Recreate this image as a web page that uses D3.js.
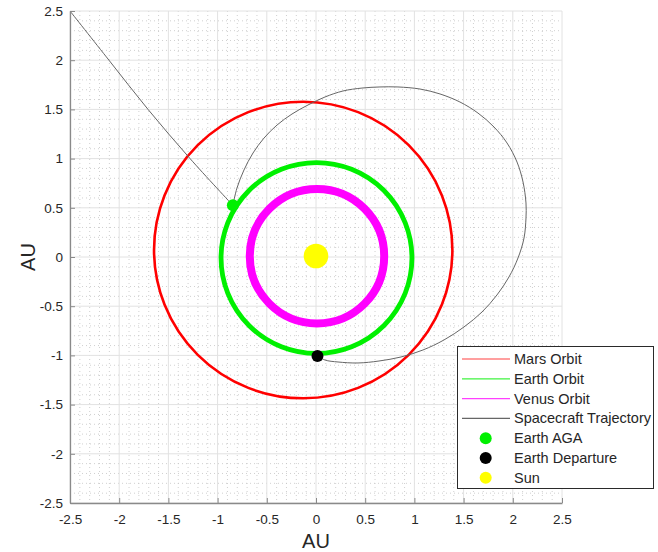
<!DOCTYPE html>
<html>
<head>
<meta charset="utf-8">
<script src="https://cdn.jsdelivr.net/npm/d3@7"></script>
<style>
  html, body { margin: 0; padding: 0; background: #fff; }
  svg { display: block; font-family: "Liberation Sans", Arial, Helvetica, sans-serif; }
</style>
</head>
<body>
<svg id="chart" width="658" height="552"></svg>
<script>
// ---------- DATA ----------
const xTicks = [-2.5, -2, -1.5, -1, -0.5, 0, 0.5, 1, 1.5, 2, 2.5];
const yTicks = [-2.5, -2, -1.5, -1, -0.5, 0, 0.5, 1, 1.5, 2, 2.5];
const xTickLabels = ["-2.5", "-2", "-1.5", "-1", "-0.5", "0", "0.5", "1", "1.5", "2", "2.5"];
const yTickLabels = ["-2.5", "-2", "-1.5", "-1", "-0.5", "0", "0.5", "1", "1.5", "2", "2.5"];

const orbitNames = ["Mars Orbit", "Earth Orbit", "Venus Orbit"];
const orbitCenterX = [-0.13, 0.005, 0.01];
const orbitCenterY = [0.071, -0.01, 0.008];
const orbitRadiusX = [1.516, 0.970, 0.683];
const orbitRadiusY = [1.507, 0.970, 0.683];

// transfer arc from Earth departure round to Earth AGA
const transferX = [0.015, 0.091, 0.224, 0.427, 0.640, 0.864, 1.087, 1.301, 1.504, 1.687, 1.839, 1.961, 2.053, 2.114, 2.134, 2.134, 2.104, 2.043, 1.941, 1.809, 1.646, 1.463, 1.260, 1.057, 0.833, 0.650, 0.467, 0.274, 0.091, -0.081, -0.244, -0.396, -0.528, -0.640, -0.732, -0.803, -0.845];
const transferY = [-1.005, -1.047, -1.067, -1.077, -1.057, -1.016, -0.945, -0.843, -0.711, -0.559, -0.386, -0.203, -0.010, 0.193, 0.396, 0.549, 0.762, 0.965, 1.159, 1.321, 1.463, 1.575, 1.657, 1.707, 1.728, 1.728, 1.717, 1.687, 1.626, 1.545, 1.453, 1.341, 1.209, 1.057, 0.884, 0.701, 0.525];
// outbound leg after the flyby
const escapeX = [-0.845, -1.280, -1.707, -2.104, -2.5];
const escapeY = [0.525, 1.0, 1.5, 2.0, 2.5];

const bodyNames = ["Earth AGA", "Earth Departure", "Sun"];
const bodyX = [-0.845, 0.015, 0.0];
const bodyY = [0.525, -1.005, 0.01];

const legendLabels = ["Mars Orbit", "Earth Orbit", "Venus Orbit", "Spacecraft Trajectory", "Earth AGA", "Earth Departure", "Sun"];

// ---------- STYLE ----------
const orbitStyle = {
  "Mars Orbit":  { color: "#ff0000", width: 2.6 },
  "Earth Orbit": { color: "#00f000", width: 4.8 },
  "Venus Orbit": { color: "#ff00ff", width: 8 }
};
const bodyStyle = {
  "Earth AGA": { color: "#00f000", r: 6 },
  "Earth Departure": { color: "#000000", r: 6 },
  "Sun": { color: "#ffff00", r: 12.3 }
};
const trajColor = "#666666";

// ---------- LAYOUT ----------
const svg = d3.select("#chart");
const plot = { left: 70, right: 562, top: 11, bottom: 503 };
const x = d3.scaleLinear().domain([-2.5, 2.5]).range([plot.left, plot.right]);
const y = d3.scaleLinear().domain([-2.5, 2.5]).range([plot.bottom, plot.top]);

svg.append("rect").attr("width", 658).attr("height", 552).attr("fill", "#fff");

svg.append("defs").append("clipPath").attr("id", "clip")
  .append("rect").attr("x", plot.left).attr("y", plot.top)
  .attr("width", plot.right - plot.left).attr("height", plot.bottom - plot.top);

// minor grid
const minor = d3.range(-25, 26).map(d => d / 10).filter(v => Math.abs(Math.round(v * 2) - v * 2) > 1e-6);
const gMinor = svg.append("g");
gMinor.selectAll("line.mx").data(minor).join("line")
  .attr("x1", d => x(d)).attr("x2", d => x(d))
  .attr("y1", plot.top).attr("y2", plot.bottom)
  .attr("stroke", "#c4c4c4").attr("stroke-width", 0.8).attr("stroke-dasharray", "1,3");
gMinor.selectAll("line.my").data(minor).join("line")
  .attr("y1", d => y(d)).attr("y2", d => y(d))
  .attr("x1", plot.left).attr("x2", plot.right)
  .attr("stroke", "#c4c4c4").attr("stroke-width", 0.8).attr("stroke-dasharray", "1,3");

// major grid
const gMajor = svg.append("g");
gMajor.selectAll("line.gx").data(xTicks).join("line")
  .attr("x1", d => x(d)).attr("x2", d => x(d))
  .attr("y1", plot.top).attr("y2", plot.bottom)
  .attr("stroke", "#e2e2e2").attr("stroke-width", 1);
gMajor.selectAll("line.gy").data(yTicks).join("line")
  .attr("y1", d => y(d)).attr("y2", d => y(d))
  .attr("x1", plot.left).attr("x2", plot.right)
  .attr("stroke", "#e2e2e2").attr("stroke-width", 1);

const marks = svg.append("g").attr("clip-path", "url(#clip)");

// orbits
orbitNames.forEach((name, i) => {
  marks.append("ellipse")
    .attr("cx", x(orbitCenterX[i])).attr("cy", y(orbitCenterY[i]))
    .attr("rx", x(orbitRadiusX[i]) - x(0)).attr("ry", y(0) - y(orbitRadiusY[i]))
    .attr("fill", "none")
    .attr("stroke", orbitStyle[name].color)
    .attr("stroke-width", orbitStyle[name].width);
});

// trajectory
const line = d3.line().x(d => x(d[0])).y(d => y(d[1])).curve(d3.curveCatmullRom.alpha(0.5));
marks.append("path").datum(d3.zip(transferX, transferY)).attr("d", line)
  .attr("fill", "none").attr("stroke", trajColor).attr("stroke-width", 1);
marks.append("path").datum(d3.zip(escapeX, escapeY)).attr("d", line)
  .attr("fill", "none").attr("stroke", trajColor).attr("stroke-width", 1);

// bodies
bodyNames.forEach((name, i) => {
  marks.append("circle")
    .attr("cx", x(bodyX[i])).attr("cy", y(bodyY[i]))
    .attr("r", bodyStyle[name].r).attr("fill", bodyStyle[name].color);
});

// axes
const xAxis = d3.axisBottom(x).tickValues(xTicks).tickFormat((d, i) => xTickLabels[i])
  .tickSize(-5).tickSizeOuter(0).tickPadding(11);
const yAxis = d3.axisLeft(y).tickValues(yTicks).tickFormat((d, i) => yTickLabels[i])
  .tickSize(-5).tickSizeOuter(0).tickPadding(7);

const gx = svg.append("g").attr("transform", `translate(0,${plot.bottom})`).call(xAxis);
const gy = svg.append("g").attr("transform", `translate(${plot.left},0)`).call(yAxis);
[gx, gy].forEach(g => {
  g.select(".domain").attr("stroke", "#8a8a8a").attr("stroke-width", 1.3);
  g.selectAll(".tick line").attr("stroke", "#8a8a8a").attr("stroke-width", 1);
  g.selectAll(".tick text").attr("fill", "#262626")
    .style("font-family", "'Liberation Sans', Arial, sans-serif").style("font-size", "13.5px");
});

svg.append("text").attr("x", x(0)).attr("y", 548).attr("text-anchor", "middle")
  .attr("fill", "#262626").style("font-size", "20px").text("AU");
svg.append("text").attr("transform", `translate(35,${y(0)}) rotate(-90)`).attr("text-anchor", "middle")
  .attr("fill", "#262626").style("font-size", "20px").text("AU");

// legend
const lg = svg.append("g");
const lgBox = { x: 457.5, y: 346.5, w: 196, h: 142 };
lg.append("rect").attr("x", lgBox.x).attr("y", lgBox.y).attr("width", lgBox.w).attr("height", lgBox.h)
  .attr("fill", "#fff").attr("stroke", "#2a2a2a").attr("stroke-width", 1);
const rowY = i => lgBox.y + 12.5 + i * 19.8;
legendLabels.forEach((lab, i) => {
  const yy = rowY(i);
  if (i < 3) {
    lg.append("line").attr("x1", 462).attr("x2", 510).attr("y1", yy).attr("y2", yy)
      .attr("stroke", orbitStyle[lab].color).attr("stroke-width", 1.2).attr("opacity", 0.75);
  } else if (i === 3) {
    lg.append("line").attr("x1", 462).attr("x2", 510).attr("y1", yy).attr("y2", yy)
      .attr("stroke", trajColor).attr("stroke-width", 1.3);
  } else {
    lg.append("circle").attr("cx", 485.7).attr("cy", yy).attr("r", 6)
      .attr("fill", bodyStyle[lab].color);
  }
  lg.append("text").attr("x", 514).attr("y", yy).attr("dy", "0.35em")
    .attr("fill", "#262626").style("font-size", "14.5px").text(lab);
});
</script>
</body>
</html>
